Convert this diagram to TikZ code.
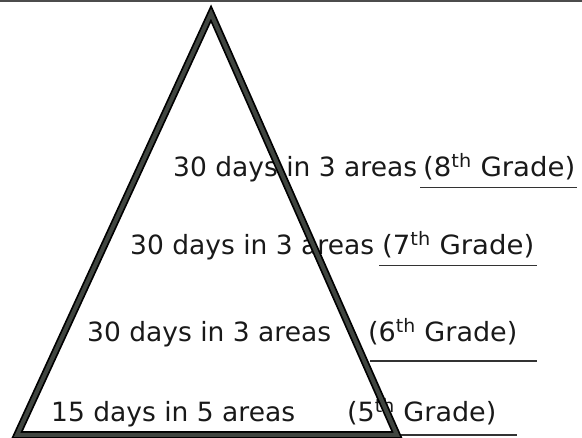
\documentclass[tikz,border=0pt]{standalone}
\usepackage{fontspec}
\setmainfont{DejaVu Sans}
\begin{document}
\begin{tikzpicture}[x=1pt,y=-1pt,
  lbl/.style={anchor=base west,inner sep=0pt,font=\fontsize{26.5}{31}\selectfont,text=black!90},
  uline/.style={draw=black!80,line width=1.6pt},
  triout/.style={draw=black,line width=7.5pt,line join=miter},
  triin/.style={draw={rgb,1:red,0.25;green,0.27;blue,0.25},line width=4pt,line join=miter}]
\useasboundingbox (0,0) rectangle (582,438);
% top scan edge
\coordinate (tl) at (0,1.2);
\coordinate (tr) at (582,1.2);
\draw[draw=black!70,line width=2.6pt] (tl) -- (tr);
% texts
\node[lbl] (a1) at (173,177) {30 days in 3 areas};
\node[lbl] (g1) at (423,177) {\scalebox{1.04}[1]{(8\textsuperscript{th} Grade)}};
\node[lbl] (a2) at (130,255) {30 days in 3 areas};
\node[lbl] (g2) at (382,255) {\scalebox{1.04}[1]{(7\textsuperscript{th} Grade)}};
\node[lbl] (a3) at (87,342) {30 days in 3 areas};
\node[lbl] (g3) at (368,342) {\scalebox{1.02}[1]{(6\textsuperscript{th} Grade)}};
\node[lbl] (a4) at (51,422) {15 days in 5 areas};
\node[lbl] (g4) at (347,422) {\scalebox{1.02}[1]{(5\textsuperscript{th} Grade)}};
% underlines
\coordinate (u1a) at (420,187.5);
\coordinate (u1b) at (577,187.5);
\coordinate (u2a) at (379,265.5);
\coordinate (u2b) at (537,265.5);
\coordinate (u3a) at (370,361);
\coordinate (u3b) at (537,361);
\coordinate (u4a) at (395,435);
\coordinate (u4b) at (517,435);
\draw[uline] (u1a) -- (u1b);
\draw[uline] (u2a) -- (u2b);
\draw[uline] (u3a) -- (u3b);
\draw[uline] (u4a) -- (u4b);
% triangle
\coordinate (apex) at (211,13.5);
\coordinate (bl) at (17,435);
\coordinate (br) at (397,435);
\draw[triout] (apex) -- (bl) -- (br) -- cycle;
\draw[triin] (apex) -- (bl) -- (br) -- cycle;
\end{tikzpicture}
\end{document}
